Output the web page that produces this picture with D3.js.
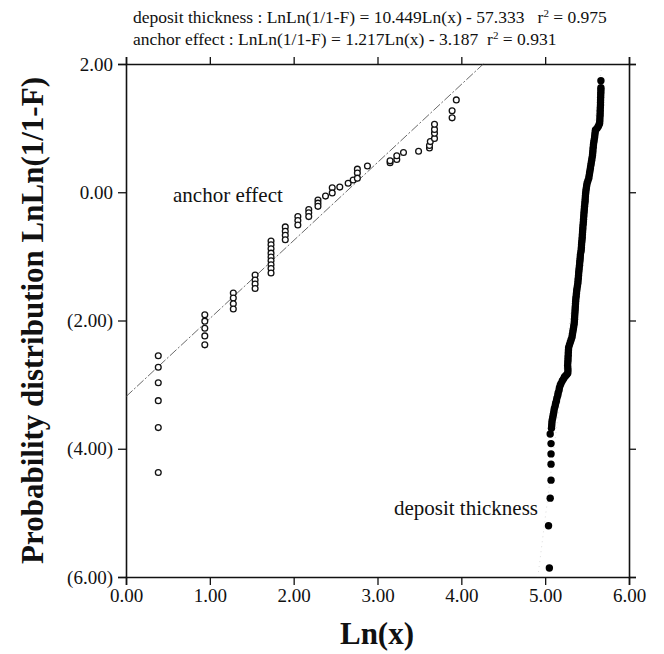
<!DOCTYPE html>
<html>
<head>
<meta charset="utf-8">
<script src="https://cdn.jsdelivr.net/npm/d3@7"></script>
<style>
  body { margin: 0; background: #fff; }
  svg text { font-family: "Liberation Serif", "Times New Roman", serif; fill: #111; }
</style>
</head>
<body>
<div id="chart"></div>
<script>
'use strict';

// Ejes
var xTicks = [0, 1, 2, 3, 4, 5, 6];
var yTicks = [2, 0, -2, -4, -6];
var yTickLabels = ["2.00", "0.00", "(2.00)", "(4.00)", "(6.00)"];

// anchor effect (circulos abiertos)
var anchorLnX = [
  0.385, 0.385, 0.385, 0.385, 0.385, 0.385,
  0.94, 0.94, 0.94, 0.94, 0.94,
  1.28, 1.28, 1.28, 1.28,
  1.54, 1.54, 1.54, 1.54,
  1.73, 1.73, 1.73, 1.73, 1.73, 1.73, 1.73, 1.73, 1.73,
  1.90, 1.90, 1.90, 1.90,
  2.05, 2.05, 2.05,
  2.18, 2.18, 2.18,
  2.29, 2.29, 2.29,
  2.38, 2.46, 2.46, 2.55, 2.65, 2.71,
  2.76, 2.76, 2.76, 2.88,
  3.15, 3.15, 3.23, 3.23, 3.31, 3.49,
  3.62, 3.62, 3.63, 3.68, 3.68, 3.68, 3.68,
  3.89, 3.89, 3.94
];
var anchorLnLn = [
  -2.55, -2.73, -2.97, -3.25, -3.67, -4.37,
  -1.91, -2.01, -2.12, -2.24, -2.38,
  -1.57, -1.65, -1.74, -1.82,
  -1.29, -1.37, -1.43, -1.50,
  -0.76, -0.82, -0.88, -0.95, -1.01, -1.07, -1.13, -1.19, -1.26,
  -0.54, -0.61, -0.67, -0.74,
  -0.38, -0.44, -0.51,
  -0.27, -0.32, -0.38,
  -0.12, -0.17, -0.22,
  -0.06, 0.07, -0.01, 0.08, 0.14, 0.19,
  0.36, 0.30, 0.22, 0.41,
  0.46, 0.49, 0.51, 0.57, 0.62, 0.64,
  0.69, 0.73, 0.79, 0.84, 0.92, 0.98, 1.06,
  1.16, 1.27, 1.44
];

// deposit thickness (puntos llenos)
var depositLnX = [
  5.05, 5.04, 5.06, 5.07, 5.07, 5.07, 5.07, 5.06,
  5.075, 5.078, 5.08, 5.083, 5.09, 5.095, 5.10, 5.105, 5.11, 5.12,
  5.125, 5.135, 5.14, 5.15, 5.155, 5.165, 5.17, 5.18, 5.19,
  5.205, 5.22, 5.23, 5.245, 5.26, 5.27,
  5.272, 5.27, 5.268, 5.27, 5.272, 5.273, 5.275, 5.276, 5.278, 5.28,
  5.29, 5.30, 5.31, 5.32, 5.325, 5.33, 5.335, 5.34, 5.345, 5.348,
  5.35, 5.352, 5.354, 5.356, 5.358, 5.36, 5.362, 5.364,
  5.366, 5.37, 5.373, 5.376, 5.38, 5.385, 5.39, 5.392, 5.395, 5.398,
  5.40, 5.403, 5.406, 5.41, 5.412, 5.415, 5.418, 5.42, 5.425, 5.43,
  5.432, 5.434, 5.436, 5.44, 5.442, 5.444, 5.446, 5.448, 5.45, 5.453,
  5.456, 5.458, 5.46,
  5.462, 5.465, 5.467, 5.47, 5.473, 5.476, 5.478, 5.48, 5.483, 5.486,
  5.49, 5.495, 5.50, 5.51, 5.52, 5.525, 5.53,
  5.535, 5.54, 5.545, 5.55, 5.555, 5.56, 5.565, 5.568, 5.57, 5.573,
  5.576, 5.58, 5.585, 5.59, 5.593, 5.597, 5.60,
  5.62, 5.635, 5.645, 5.65,
  5.652, 5.653, 5.655, 5.656, 5.657, 5.658, 5.66, 5.66, 5.661, 5.662,
  5.663, 5.664, 5.665, 5.665, 5.665
];
var depositLnLn = [
  -5.86, -5.20, -4.77, -4.49, -4.24, -4.08, -3.92, -3.77,
  -3.68, -3.64, -3.60, -3.56, -3.52, -3.48, -3.45, -3.41, -3.37, -3.33,
  -3.29, -3.25, -3.21, -3.17, -3.13, -3.09, -3.05, -3.01, -2.98,
  -2.94, -2.91, -2.88, -2.86, -2.84, -2.82,
  -2.78, -2.74, -2.70, -2.66, -2.62, -2.58, -2.54, -2.50, -2.46, -2.42,
  -2.38, -2.34, -2.30, -2.26, -2.22, -2.18, -2.14, -2.10, -2.06, -2.02,
  -1.98, -1.94, -1.90, -1.86, -1.82, -1.78, -1.74, -1.70,
  -1.66, -1.62, -1.58, -1.54, -1.50, -1.46, -1.42, -1.38, -1.34, -1.30,
  -1.26, -1.22, -1.18, -1.14, -1.10, -1.06, -1.02, -0.98, -0.94, -0.90,
  -0.86, -0.82, -0.78, -0.74, -0.70, -0.66, -0.62, -0.58, -0.54, -0.50,
  -0.46, -0.42, -0.38,
  -0.34, -0.30, -0.26, -0.22, -0.18, -0.14, -0.10, -0.06, -0.02, 0.02,
  0.06, 0.10, 0.14, 0.18, 0.22, 0.26, 0.30,
  0.34, 0.38, 0.42, 0.46, 0.50, 0.54, 0.58, 0.62, 0.66, 0.70,
  0.74, 0.78, 0.82, 0.86, 0.90, 0.94, 0.97,
  1.00, 1.03, 1.06, 1.08,
  1.12, 1.16, 1.20, 1.24, 1.28, 1.32, 1.36, 1.40, 1.44, 1.48,
  1.52, 1.56, 1.60, 1.63, 1.74
];

// Ajustes (pendiente, intercepto)
var anchorFit = { slope: 1.217, intercept: -3.187 };
var depositFit = { slope: 10.449, intercept: -57.333 };

var W = 664, H = 654;
var margin = { left: 126, top: 64, right: 35, bottom: 77 };

var svg = d3.select("#chart").append("svg").attr("width", W).attr("height", H);

var x = d3.scaleLinear().domain([0, 6]).range([margin.left, W - margin.right]);
var y = d3.scaleLinear().domain([-6, 2]).range([H - margin.bottom, margin.top]);

// Ecuaciones arriba
var eq = svg.append("g").style("font-size", "17.5px");
var t1 = eq.append("text").attr("x", 133).attr("y", 23);
t1.append("tspan").text("deposit thickness : LnLn(1/1-F) = 10.449Ln(x) - 57.333\u00a0\u00a0\u00a0r");
t1.append("tspan").attr("dy", -6).style("font-size", "11px").text("2");
t1.append("tspan").attr("dy", 6).text(" = 0.975");
var t2 = eq.append("text").attr("x", 133).attr("y", 45);
t2.append("tspan").text("anchor effect : LnLn(1/1-F) = 1.217Ln(x) - 3.187\u00a0\u00a0r");
t2.append("tspan").attr("dy", -6).style("font-size", "11px").text("2");
t2.append("tspan").attr("dy", 6).text(" = 0.931");

// Marco con ticks hacia afuera
var fmt = d3.format(".2f");
svg.append("g").attr("transform", "translate(0," + y(-6) + ")")
  .call(d3.axisBottom(x).tickValues(xTicks).tickFormat(fmt).tickSize(8).tickPadding(4));
svg.append("g").attr("transform", "translate(0," + y(2) + ")")
  .call(d3.axisTop(x).tickValues(xTicks).tickFormat("").tickSize(7));
svg.append("g").attr("transform", "translate(" + x(0) + ",0)")
  .call(d3.axisLeft(y).tickValues(yTicks).tickFormat(function (d, i) { return yTickLabels[i]; }).tickSize(8).tickPadding(5));
svg.append("g").attr("transform", "translate(" + x(6) + ",0)")
  .call(d3.axisRight(y).tickValues(yTicks).tickFormat("").tickSize(7));

svg.selectAll(".domain").attr("stroke", "#111").attr("stroke-width", 1.6);
svg.selectAll(".tick line").attr("stroke", "#111").attr("stroke-width", 1.3);
svg.selectAll(".tick text").style("font-size", "19px").attr("fill", "#111");

// Lineas de ajuste
var fitLine = function (fit) {
  var x0 = Math.max(0, (-6 - fit.intercept) / fit.slope);
  var x1 = Math.min(6, (2 - fit.intercept) / fit.slope);
  return [[x0, fit.slope * x0 + fit.intercept], [x1, fit.slope * x1 + fit.intercept]];
};
var line = d3.line().x(function (d) { return x(d[0]); }).y(function (d) { return y(d[1]); });

svg.append("path").attr("d", line(fitLine(depositFit)))
  .attr("fill", "none").attr("stroke", "#ccc").attr("stroke-width", 0.7).attr("stroke-dasharray", "1,4");
svg.append("path").attr("d", line(fitLine(anchorFit)))
  .attr("fill", "none").attr("stroke", "#444").attr("stroke-width", 0.8).attr("stroke-dasharray", "9,2,2,2");

// Puntos
svg.append("g").selectAll("circle").data(anchorLnX).enter().append("circle")
  .attr("cx", function (d) { return x(d); })
  .attr("cy", function (d, i) { return y(anchorLnLn[i]); })
  .attr("r", 2.9).attr("fill", "#fff").attr("stroke", "#111").attr("stroke-width", 1.3);

svg.append("g").selectAll("circle").data(depositLnX).enter().append("circle")
  .attr("cx", function (d) { return x(d); })
  .attr("cy", function (d, i) { return y(depositLnLn[i]); })
  .attr("r", 3.7).attr("fill", "#000");

// Etiquetas
svg.append("text").attr("x", 173).attr("y", 202).style("font-size", "21px").text("anchor effect");
svg.append("text").attr("x", 538).attr("y", 515).attr("text-anchor", "end").style("font-size", "21px").text("deposit thickness");

svg.append("text").attr("x", 377).attr("y", 644).attr("text-anchor", "middle")
  .style("font-size", "31px").style("font-weight", "bold").text("Ln(x)");
svg.append("text").attr("transform", "translate(43," + y(-2) + ") rotate(-90)").attr("text-anchor", "middle")
  .style("font-size", "31px").style("font-weight", "bold").text("Probability distribution LnLn(1/1-F)");
</script>
</body>
</html>
